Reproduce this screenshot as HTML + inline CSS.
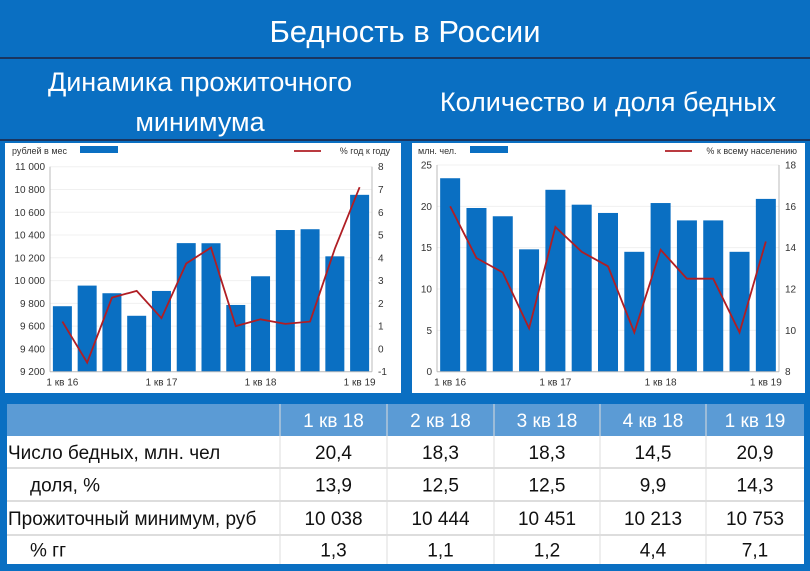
<!DOCTYPE html>
<html><head><meta charset="utf-8">
<style>
body{margin:0;width:810px;height:571px;background:#0a6fc2;overflow:hidden;font-family:"Liberation Sans","Noto Sans CJK SC",sans-serif;}
svg{display:block}
</style></head>
<body>
<svg width="810" height="571" viewBox="0 0 810 571" xmlns="http://www.w3.org/2000/svg">
<rect x="0" y="0" width="810" height="571" fill="#0a6fc2"/>
<text x="405" y="42" text-anchor="middle" fill="#fff" font-size="31">Бедность в России</text>
<rect x="0" y="57" width="810" height="2" fill="#1a3560"/>
<text x="200" y="91" text-anchor="middle" fill="#fff" font-size="27">Динамика прожиточного</text>
<text x="200" y="131" text-anchor="middle" fill="#fff" font-size="27">минимума</text>
<text x="608" y="111" text-anchor="middle" fill="#fff" font-size="27">Количество и доля бедных</text>
<rect x="0" y="139" width="810" height="2" fill="#1a3560"/>
<rect x="5" y="143" width="396" height="250" fill="#fff"/>
<rect x="412" y="143" width="393" height="250" fill="#fff"/>
<g id="c1"></g>
<g id="c2"></g>
<g id="tbl"></g>
</svg>
<script>
const NS="http://www.w3.org/2000/svg";
const minBars=[9775,9956,9889,9691,9909,10329,10328,9786,10038,10444,10451,10213,10753];
const minGrowth=[1.2,-0.6,2.25,2.55,1.35,3.75,4.45,1.0,1.3,1.1,1.2,4.4,7.1];
const minLeftTicks=[9200,9400,9600,9800,10000,10200,10400,10600,10800,11000];
const minRightTicks=[-1,0,1,2,3,4,5,6,7,8];
const poorBars=[23.4,19.8,18.8,14.8,22.0,20.2,19.2,14.5,20.4,18.3,18.3,14.5,20.9];
const poorShare=[16.0,13.5,12.8,10.1,15.0,13.8,13.1,9.9,13.9,12.5,12.5,9.9,14.3];
const poorLeftTicks=[0,5,10,15,20,25];
const poorRightTicks=[8,10,12,14,16,18];
const xLabels=["1 кв 16","","","","1 кв 17","","","","1 кв 18","","","","1 кв 19"];
const tblHeads=["1 кв 18","2 кв 18","3 кв 18","4 кв 18","1 кв 19"];
const tblRows=[["Число бедных, млн. чел",false,["20,4","18,3","18,3","14,5","20,9"]],
["доля, %",true,["13,9","12,5","12,5","9,9","14,3"]],
["Прожиточный минимум, руб",false,["10 038","10 444","10 451","10 213","10 753"]],
["% гг",true,["1,3","1,1","1,2","4,4","7,1"]]];
function el(t,a,p,txt){const e=document.createElementNS(NS,t);for(const k in a)e.setAttribute(k,a[k]);if(txt!==undefined)e.textContent=txt;p.appendChild(e);return e;}
function chart(g,o){
 const n=o.bars.length, step=(o.x1-o.x0)/n;
 const yl=v=>o.yb-(v-o.lmin)/(o.lmax-o.lmin)*(o.yb-o.yt);
 const yr=v=>o.yb-(v-o.rmin)/(o.rmax-o.rmin)*(o.yb-o.yt);
 const xc=i=>o.x0+step*(i+0.5);
 o.lt.forEach(v=>{if(v!==o.lmin){const l=el('line',{x1:o.x0,x2:o.x1,y1:yl(v),y2:yl(v),stroke:'#f0f0f0','stroke-width':1},g);}
  const t=el('text',{x:o.x0-5,y:yl(v)+3.5,'text-anchor':'end','font-size':10,fill:'#333'},g,o.lfmt(v));});
 o.rt.forEach(v=>{const t=el('text',{x:o.x1+6,y:yr(v)+3.5,'font-size':10,fill:'#333'},g,String(v));});
 o.bars.forEach((v,i)=>{const r=el('rect',{x:xc(i)-o.bw/2,y:yl(v),width:o.bw,height:o.yb-yl(v),fill:'#0a6fc2'},g);});
 const a1=el('line',{x1:o.x0,x2:o.x0,y1:o.yt,y2:o.yb,stroke:'#bbb'},g);
 const a2=el('line',{x1:o.x1,x2:o.x1,y1:o.yt,y2:o.yb,stroke:'#bbb'},g);
 const a3=el('line',{x1:o.x0,x2:o.x1,y1:o.yb,y2:o.yb,stroke:'#bbb'},g);
 const pl=el('polyline',{points:o.line.map((v,i)=>xc(i)+','+yr(v)).join(' '),fill:'none',stroke:'#b01e24','stroke-width':1.8},g);
 xLabels.forEach((s,i)=>{if(s){const t=el('text',{x:xc(i),y:o.yb+14,'text-anchor':'middle','font-size':10,fill:'#333'},g,s);}});
 const t1=el('text',{x:o.lgx,y:154,'font-size':9,fill:'#333'},g,o.lu);
 const lb=el('rect',{x:o.lbx,y:146,width:38,height:7,fill:'#0a6fc2'},g);
 const ll=el('line',{x1:o.llx,x2:o.llx+27,y1:151,y2:151,stroke:'#b01e24','stroke-width':1.8},g);
 const t2=el('text',{x:o.rlx,y:154,'font-size':9,fill:'#333','text-anchor':'end'},g,o.ru);
}
const fmt=v=>String(v).replace(/\B(?=(\d{3})+(?!\d))/g,' ');
chart(document.getElementById('c1'),{bars:minBars,line:minGrowth,lt:minLeftTicks,rt:minRightTicks,lmin:9200,lmax:11000,rmin:-1,rmax:8,x0:50,x1:372,yt:166.7,yb:371.7,bw:19,lfmt:fmt,lu:'рублей в мес',ru:'%  год к году',lgx:12,lbx:80,llx:294,rlx:390});
chart(document.getElementById('c2'),{bars:poorBars,line:poorShare,lt:poorLeftTicks,rt:poorRightTicks,lmin:0,lmax:25,rmin:8,rmax:18,x0:437,x1:779,yt:165,yb:371.7,bw:20,lfmt:v=>String(v),lu:'млн. чел.',ru:'%  к всему населению',lgx:418,lbx:470,llx:665,rlx:797});
const T=document.getElementById('tbl');
const tb=el('rect',{x:7,y:404,width:797,height:160,fill:'#fff'},T);
const th=el('rect',{x:7,y:404,width:797,height:32,fill:'#5b9bd5'},T);
const colX=[280,387,494,600,706,804];
tblHeads.forEach((h,i)=>{const t=el('text',{x:(colX[i]+colX[i+1])/2,y:427,'text-anchor':'middle','font-size':19,fill:'#fff'},T,h);});
const rowY=[436,468,501,535,564];
for(let i=1;i<4;i++){const l=el('line',{x1:7,x2:804,y1:rowY[i],y2:rowY[i],stroke:'#ddd','stroke-width':2},T);}
colX.slice(0,5).forEach(x=>{const l=el('line',{x1:x,x2:x,y1:404,y2:564,stroke:'#ddd','stroke-width':1},T);});
tblRows.forEach((r,i)=>{const cy=(rowY[i]+rowY[i+1])/2+7;
 const t=el('text',{x:r[1]?30:8,y:cy,'font-size':19,fill:'#111'},T,r[0]);
 r[2].forEach((v,j)=>{const c=el('text',{x:(colX[j]+colX[j+1])/2,y:cy,'text-anchor':'middle','font-size':19,fill:'#111'},T,v);});});
</script>
</body></html>
